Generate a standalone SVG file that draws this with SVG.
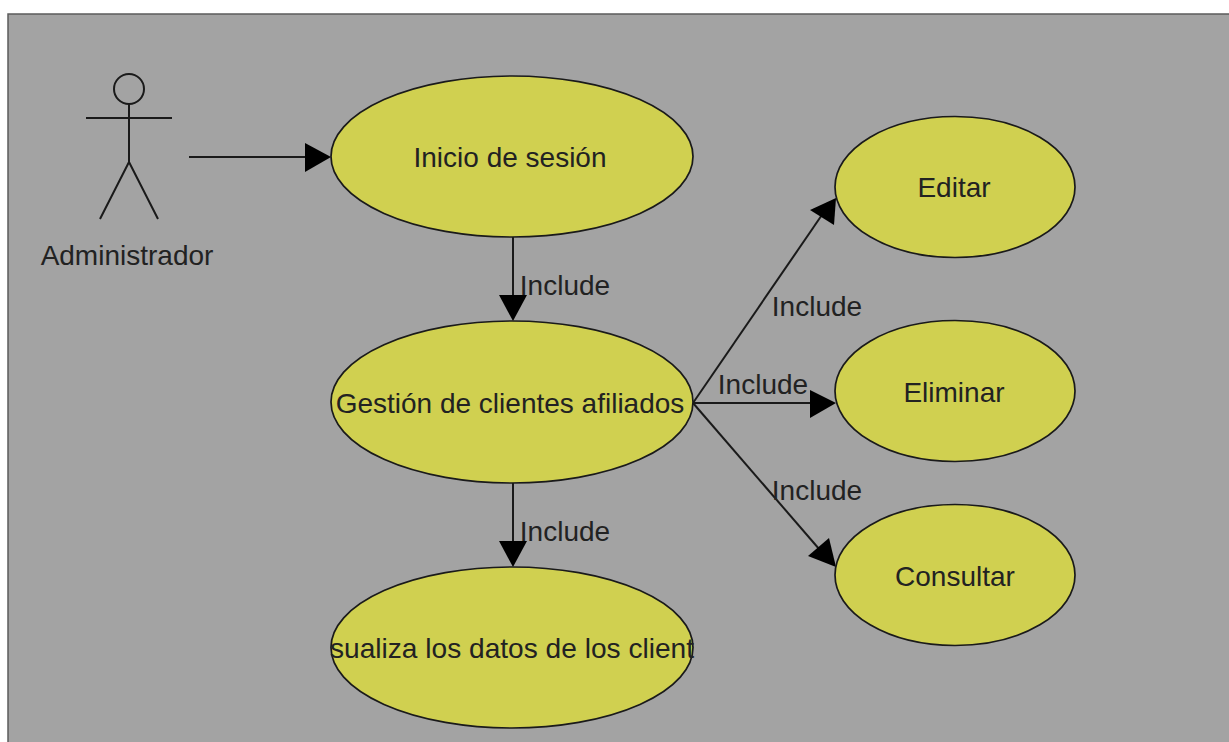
<svg xmlns="http://www.w3.org/2000/svg" width="1229" height="742" viewBox="0 0 1229 742">
<style>
.u{fill:#d0d050;stroke:#1a1a1a;stroke-width:1.7}
.l{stroke:#1a1a1a;stroke-width:2;fill:none}
.a{fill:#000;stroke:none}
text{font-family:"Liberation Sans",Arial,sans-serif;font-size:28px;fill:#222;text-anchor:middle}
</style>
<rect width="1229" height="742" fill="#fff"/>
<rect id="frame" x="8" y="14" width="1240" height="760" fill="#a3a3a3" stroke="#5c5c5c" stroke-width="1.5"/>
<g id="connectors">
<path class="l" d="M189 157H318"/><polygon class="a" points="305,143 331,157 305,172"/>
<path class="l" d="M513 237V310"/><polygon class="a" points="499,295 527,295 513,321"/>
<path class="l" d="M513 483V555"/><polygon class="a" points="499,541 527,541 513,567"/>
<path class="l" d="M693 403L826 209"/><polygon class="a" points="836,198 834,225 810,210"/>
<path class="l" d="M693 403H820"/><polygon class="a" points="810,390 836,403 810,418"/>
<path class="l" d="M693 403L826 557"/><polygon class="a" points="836,567 808,556 829,538"/>
<text x="565" y="295">Include</text>
<text x="817" y="316">Include</text>
<text x="763" y="394">Include</text>
<text x="817" y="500">Include</text>
<text x="565" y="541">Include</text>
</g>
<g id="actor">
<circle class="l" cx="129" cy="89" r="15"/>
<path class="l" d="M129 104V162M86 118H172M129 162L100 219M129 162L158 219"/>
<text x="127" y="265">Administrador</text>
</g>
<g id="inicio"><ellipse class="u" cx="512" cy="156.500" rx="181" ry="80.500"/><text x="510" y="167">Inicio de sesión</text></g>
<g id="gestion"><ellipse class="u" cx="512" cy="402" rx="181" ry="81"/><text x="510" y="413">Gestión de clientes afiliados</text></g>
<g id="visualiza"><ellipse class="u" cx="512" cy="647.500" rx="181" ry="80.500"/><text x="512" y="658" textLength="364" lengthAdjust="spacingAndGlyphs">sualiza los datos de los client</text></g>
<g id="editar"><ellipse class="u" cx="955" cy="187" rx="120" ry="70.500"/><text x="954" y="197">Editar</text></g>
<g id="eliminar"><ellipse class="u" cx="955" cy="391" rx="120" ry="70.500"/><text x="954" y="402">Eliminar</text></g>
<g id="consultar"><ellipse class="u" cx="955" cy="575" rx="120" ry="70.500"/><text x="955" y="586">Consultar</text></g>
</svg>
